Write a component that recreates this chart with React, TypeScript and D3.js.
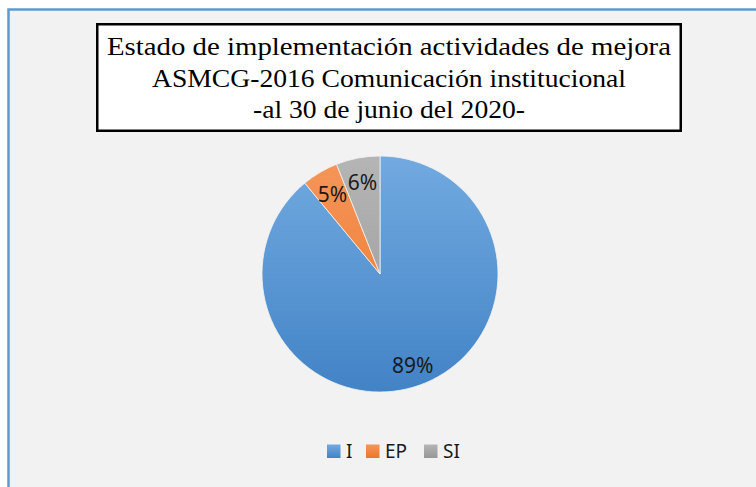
import React from "react";
import * as d3 from "d3";

const categories = ["I", "EP", "SI"];
const values = [89, 5, 6];
const labels = ["89%", "5%", "6%"];
const titleLines = [
  "Estado de implementación actividades de mejora",
  "ASMCG-2016 Comunicación institucional",
  "-al 30 de junio del 2020-",
];
const titleWidths = [564, 474, 272];
const colorsTop = ["#72aae0", "#f6955a", "#b5b5b5"];
const colorsBottom = ["#4283c6", "#eb7728", "#979797"];

export default function App() {
  const W = 756;
  const H = 487;
  const cx = 380;
  const cy = 274;
  const r = 118;

  const pie = d3
    .pie<number>()
    .sort(null)
    .value((d) => d)
    .startAngle(0)
    .endAngle(2 * Math.PI);
  const arcs = pie(values);
  const arc = d3.arc<d3.PieArcDatum<number>>().innerRadius(0).outerRadius(r);
  const labelArc = d3
    .arc<d3.PieArcDatum<number>>()
    .innerRadius(r * 0.79)
    .outerRadius(r * 0.79);

  const legendItems = [
    { sq: 327, tx: 346 },
    { sq: 366, tx: 385 },
    { sq: 424, tx: 443 },
  ];

  return (
    <svg
      width={W}
      height={H}
      style={{ position: "fixed", left: 0, top: 0 }}
      xmlns="http://www.w3.org/2000/svg"
    >
      <defs>
        {categories.map((c, i) => (
          <linearGradient
            key={c}
            id={`g${i}`}
            gradientUnits="userSpaceOnUse"
            x1={0}
            y1={-r}
            x2={0}
            y2={r}
          >
            <stop offset="0" stopColor={colorsTop[i]} />
            <stop offset="1" stopColor={colorsBottom[i]} />
          </linearGradient>
        ))}
        {categories.map((c, i) => (
          <linearGradient key={"l" + c} id={`lg${i}`} x1="0" y1="0" x2="0" y2="1">
            <stop offset="0" stopColor={colorsTop[i]} />
            <stop offset="1" stopColor={colorsBottom[i]} />
          </linearGradient>
        ))}
      </defs>
      <rect x={0} y={0} width={W} height={H} fill="#ffffff" />
      <rect
        x={8.5}
        y={9.5}
        width={W + 20}
        height={H + 20}
        fill="#f2f2f2"
        stroke="#5b9bd5"
        strokeWidth={2.5}
      />
      <rect
        x={97.25}
        y={24.25}
        width={583.5}
        height={106.5}
        fill="#ffffff"
        stroke="#000000"
        strokeWidth={2.5}
      />
      {titleLines.map((t, i) => (
        <text
          key={i}
          x={389}
          y={55 + i * 31.5}
          textAnchor="middle"
          fontFamily="'Liberation Serif', serif"
          fontSize={26}
          fill="#000"
          textLength={titleWidths[i]}
          lengthAdjust="spacingAndGlyphs"
        >
          {t}
        </text>
      ))}
      <g transform={`translate(${cx},${cy})`}>
        {arcs.map((a, i) => (
          <path
            key={i}
            d={arc(a) || ""}
            fill={`url(#g${i})`}
            stroke="#f2f2f2"
            strokeWidth={0.8}
          />
        ))}
        {arcs.map((a, i) => {
          const [lx, ly] = labelArc.centroid(a);
          const extra = i === 0 ? 1.04 : 1;
          return (
            <text
              key={"t" + i}
              x={lx * extra}
              y={ly * extra}
              textAnchor="middle"
              dominantBaseline="central"
              fontFamily="'Noto Sans', sans-serif"
              fontSize={21}
              fill="#1a1a1a"
            >
              {labels[i]}
            </text>
          );
        })}
      </g>
      {categories.map((c, i) => (
        <g key={"leg" + c}>
          <rect x={legendItems[i].sq} y={444.5} width={13.5} height={13.5} fill={`url(#lg${i})`} />
          <text
            x={legendItems[i].tx}
            y={458}
            fontFamily="'Noto Sans', sans-serif"
            fontSize={19}
            fill="#1a1a1a"
          >
            {c}
          </text>
        </g>
      ))}
    </svg>
  );
}
